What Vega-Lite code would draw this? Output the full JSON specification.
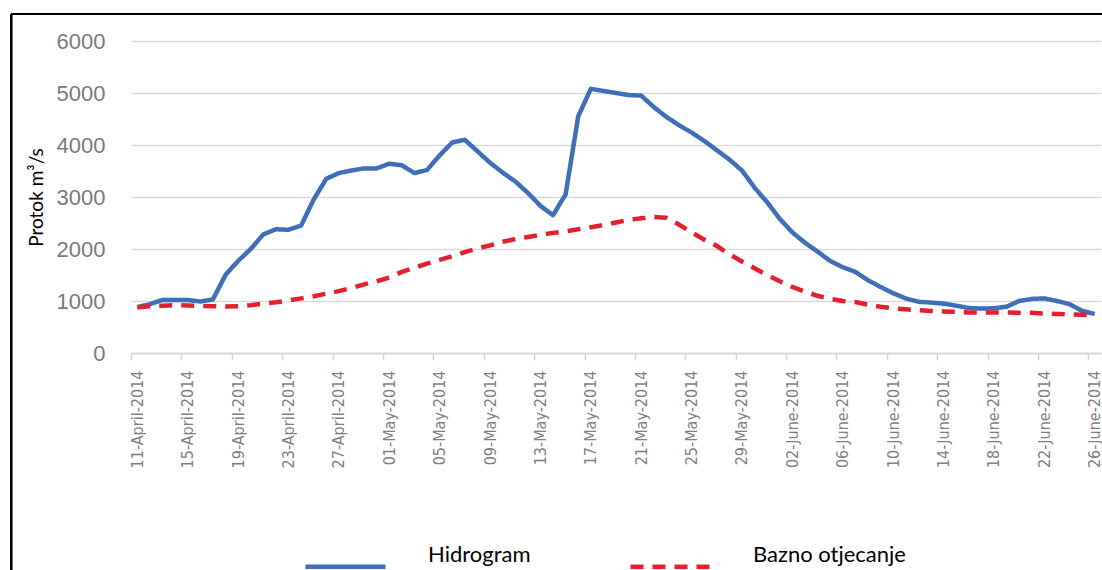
{
  "$schema": "https://vega.github.io/schema/vega-lite/v6.json",
  "width": 970,
  "height": 312,
  "autosize": {"type": "none"},
  "padding": {"left": 131, "top": 41, "right": 1, "bottom": 217},
  "background": "white",
  "config": {
    "view": {"stroke": null},
    "font": "Lato",
    "legend": {
      "orient": "none",
      "legendX": 172,
      "legendY": 483,
      "direction": "horizontal",
      "symbolType": "stroke",
      "symbolSize": 6400,
      "symbolStrokeWidth": 4.5,
      "labelFont": "Lato",
      "labelFontSize": 22,
      "labelColor": "black",
      "labelOffset": 40,
      "columnPadding": 90,
      "labelBaseline": "bottom",
      "labelLimit": 400,
      "padding": 0
    }
  },
  "data": {
    "values": [
      {"date": "2014-04-11", "Hidrogram": 880, "Bazno otjecanje": 880},
      {"date": "2014-04-12", "Hidrogram": 940, "Bazno otjecanje": 900},
      {"date": "2014-04-13", "Hidrogram": 1020, "Bazno otjecanje": 910},
      {"date": "2014-04-14", "Hidrogram": 1020, "Bazno otjecanje": 920},
      {"date": "2014-04-15", "Hidrogram": 1020, "Bazno otjecanje": 915},
      {"date": "2014-04-16", "Hidrogram": 990, "Bazno otjecanje": 905},
      {"date": "2014-04-17", "Hidrogram": 1030, "Bazno otjecanje": 900},
      {"date": "2014-04-18", "Hidrogram": 1500, "Bazno otjecanje": 895},
      {"date": "2014-04-19", "Hidrogram": 1770, "Bazno otjecanje": 900},
      {"date": "2014-04-20", "Hidrogram": 2000, "Bazno otjecanje": 920},
      {"date": "2014-04-21", "Hidrogram": 2280, "Bazno otjecanje": 950},
      {"date": "2014-04-22", "Hidrogram": 2380, "Bazno otjecanje": 975},
      {"date": "2014-04-23", "Hidrogram": 2370, "Bazno otjecanje": 1010},
      {"date": "2014-04-24", "Hidrogram": 2450, "Bazno otjecanje": 1050},
      {"date": "2014-04-25", "Hidrogram": 2950, "Bazno otjecanje": 1090},
      {"date": "2014-04-26", "Hidrogram": 3350, "Bazno otjecanje": 1140},
      {"date": "2014-04-27", "Hidrogram": 3460, "Bazno otjecanje": 1190},
      {"date": "2014-04-28", "Hidrogram": 3510, "Bazno otjecanje": 1250},
      {"date": "2014-04-29", "Hidrogram": 3550, "Bazno otjecanje": 1320},
      {"date": "2014-04-30", "Hidrogram": 3550, "Bazno otjecanje": 1380},
      {"date": "2014-05-01", "Hidrogram": 3640, "Bazno otjecanje": 1450},
      {"date": "2014-05-02", "Hidrogram": 3610, "Bazno otjecanje": 1560},
      {"date": "2014-05-03", "Hidrogram": 3460, "Bazno otjecanje": 1640},
      {"date": "2014-05-04", "Hidrogram": 3520, "Bazno otjecanje": 1720},
      {"date": "2014-05-05", "Hidrogram": 3800, "Bazno otjecanje": 1790},
      {"date": "2014-05-06", "Hidrogram": 4050, "Bazno otjecanje": 1860},
      {"date": "2014-05-07", "Hidrogram": 4100, "Bazno otjecanje": 1940},
      {"date": "2014-05-08", "Hidrogram": 3880, "Bazno otjecanje": 2010},
      {"date": "2014-05-09", "Hidrogram": 3660, "Bazno otjecanje": 2070},
      {"date": "2014-05-10", "Hidrogram": 3470, "Bazno otjecanje": 2140},
      {"date": "2014-05-11", "Hidrogram": 3300, "Bazno otjecanje": 2190},
      {"date": "2014-05-12", "Hidrogram": 3080, "Bazno otjecanje": 2230},
      {"date": "2014-05-13", "Hidrogram": 2830, "Bazno otjecanje": 2270},
      {"date": "2014-05-14", "Hidrogram": 2650, "Bazno otjecanje": 2310},
      {"date": "2014-05-15", "Hidrogram": 3050, "Bazno otjecanje": 2340},
      {"date": "2014-05-16", "Hidrogram": 4550, "Bazno otjecanje": 2380},
      {"date": "2014-05-17", "Hidrogram": 5080, "Bazno otjecanje": 2420},
      {"date": "2014-05-18", "Hidrogram": 5040, "Bazno otjecanje": 2460},
      {"date": "2014-05-19", "Hidrogram": 5000, "Bazno otjecanje": 2510},
      {"date": "2014-05-20", "Hidrogram": 4960, "Bazno otjecanje": 2560},
      {"date": "2014-05-21", "Hidrogram": 4950, "Bazno otjecanje": 2590},
      {"date": "2014-05-22", "Hidrogram": 4730, "Bazno otjecanje": 2615},
      {"date": "2014-05-23", "Hidrogram": 4540, "Bazno otjecanje": 2600},
      {"date": "2014-05-24", "Hidrogram": 4380, "Bazno otjecanje": 2470},
      {"date": "2014-05-25", "Hidrogram": 4240, "Bazno otjecanje": 2320},
      {"date": "2014-05-26", "Hidrogram": 4080, "Bazno otjecanje": 2180},
      {"date": "2014-05-27", "Hidrogram": 3900, "Bazno otjecanje": 2060},
      {"date": "2014-05-28", "Hidrogram": 3720, "Bazno otjecanje": 1900},
      {"date": "2014-05-29", "Hidrogram": 3510, "Bazno otjecanje": 1760},
      {"date": "2014-05-30", "Hidrogram": 3180, "Bazno otjecanje": 1630},
      {"date": "2014-05-31", "Hidrogram": 2900, "Bazno otjecanje": 1500},
      {"date": "2014-06-01", "Hidrogram": 2580, "Bazno otjecanje": 1380},
      {"date": "2014-06-02", "Hidrogram": 2320, "Bazno otjecanje": 1270},
      {"date": "2014-06-03", "Hidrogram": 2120, "Bazno otjecanje": 1180},
      {"date": "2014-06-04", "Hidrogram": 1950, "Bazno otjecanje": 1100},
      {"date": "2014-06-05", "Hidrogram": 1770, "Bazno otjecanje": 1040},
      {"date": "2014-06-06", "Hidrogram": 1650, "Bazno otjecanje": 1000},
      {"date": "2014-06-07", "Hidrogram": 1560, "Bazno otjecanje": 980},
      {"date": "2014-06-08", "Hidrogram": 1400, "Bazno otjecanje": 930},
      {"date": "2014-06-09", "Hidrogram": 1270, "Bazno otjecanje": 890},
      {"date": "2014-06-10", "Hidrogram": 1150, "Bazno otjecanje": 860},
      {"date": "2014-06-11", "Hidrogram": 1050, "Bazno otjecanje": 840},
      {"date": "2014-06-12", "Hidrogram": 985, "Bazno otjecanje": 825},
      {"date": "2014-06-13", "Hidrogram": 970, "Bazno otjecanje": 810},
      {"date": "2014-06-14", "Hidrogram": 950, "Bazno otjecanje": 800},
      {"date": "2014-06-15", "Hidrogram": 910, "Bazno otjecanje": 790},
      {"date": "2014-06-16", "Hidrogram": 865, "Bazno otjecanje": 780},
      {"date": "2014-06-17", "Hidrogram": 855, "Bazno otjecanje": 780},
      {"date": "2014-06-18", "Hidrogram": 860, "Bazno otjecanje": 780},
      {"date": "2014-06-19", "Hidrogram": 890, "Bazno otjecanje": 780},
      {"date": "2014-06-20", "Hidrogram": 1000, "Bazno otjecanje": 775},
      {"date": "2014-06-21", "Hidrogram": 1040, "Bazno otjecanje": 775},
      {"date": "2014-06-22", "Hidrogram": 1050, "Bazno otjecanje": 760},
      {"date": "2014-06-23", "Hidrogram": 1000, "Bazno otjecanje": 750},
      {"date": "2014-06-24", "Hidrogram": 940, "Bazno otjecanje": 740},
      {"date": "2014-06-25", "Hidrogram": 810, "Bazno otjecanje": 735},
      {"date": "2014-06-26", "Hidrogram": 750, "Bazno otjecanje": 735}
    ]
  },
  "layer": [
    {
      "transform": [{"fold": ["Hidrogram", "Bazno otjecanje"], "as": ["serija", "protok"]}],
      "mark": {"type": "line", "strokeWidth": 4.5, "strokeJoin": "round", "strokeCap": "butt"},
      "encoding": {
        "x": {
          "field": "date",
          "type": "temporal",
          "scale": {
            "type": "utc",
            "domain": [
              {"year": 2014, "month": 4, "date": 10, "hours": 12, "utc": true},
              {"year": 2014, "month": 6, "date": 26, "hours": 12, "utc": true}
            ]
          },
          "axis": {
            "title": null,
            "values": [
              {"year": 2014, "month": 4, "date": 11, "utc": true},
              {"year": 2014, "month": 4, "date": 15, "utc": true},
              {"year": 2014, "month": 4, "date": 19, "utc": true},
              {"year": 2014, "month": 4, "date": 23, "utc": true},
              {"year": 2014, "month": 4, "date": 27, "utc": true},
              {"year": 2014, "month": 5, "date": 1, "utc": true},
              {"year": 2014, "month": 5, "date": 5, "utc": true},
              {"year": 2014, "month": 5, "date": 9, "utc": true},
              {"year": 2014, "month": 5, "date": 13, "utc": true},
              {"year": 2014, "month": 5, "date": 17, "utc": true},
              {"year": 2014, "month": 5, "date": 21, "utc": true},
              {"year": 2014, "month": 5, "date": 25, "utc": true},
              {"year": 2014, "month": 5, "date": 29, "utc": true},
              {"year": 2014, "month": 6, "date": 2, "utc": true},
              {"year": 2014, "month": 6, "date": 6, "utc": true},
              {"year": 2014, "month": 6, "date": 10, "utc": true},
              {"year": 2014, "month": 6, "date": 14, "utc": true},
              {"year": 2014, "month": 6, "date": 18, "utc": true},
              {"year": 2014, "month": 6, "date": 22, "utc": true},
              {"year": 2014, "month": 6, "date": 26, "utc": true}
            ],
            "labelExpr": "utcFormat(datum.value, '%d-%B-%Y')",
            "labelAngle": -90,
            "labelFont": "'DejaVu Sans Condensed', 'Liberation Sans Narrow', 'DejaVu Sans Mono'",
            "labelFontSize": 16,
            "labelColor": "#7f7f7f",
            "labelPadding": 10,
            "labelOverlap": false,
            "labelBound": false,
            "labelFlush": false,
            "tickSize": 7,
            "tickColor": "#d4d4d4",
            "tickWidth": 1.5,
            "tickOffset": -6.3,
            "labelOffset": 6.3,
            "domainColor": "#d4d4d4",
            "domainWidth": 1.5,
            "grid": false
          }
        },
        "y": {
          "field": "protok",
          "type": "quantitative",
          "scale": {"domain": [0, 6000], "nice": false},
          "axis": {
            "title": "Protok m³/s",
            "titleFont": "Lato",
            "titleFontSize": 19,
            "titleFontWeight": "normal",
            "titleColor": "black",
            "titlePadding": 10,
            "values": [0, 1000, 2000, 3000, 4000, 5000, 6000],
            "format": "d",
            "labelFont": "Liberation Sans",
            "labelFontSize": 22,
            "labelColor": "#7a7a7a",
            "labelPadding": 26,
            "ticks": false,
            "domain": false,
            "grid": true,
            "gridColor": "#d9d9d9",
            "gridWidth": 1.5
          }
        },
        "color": {
          "field": "serija",
          "type": "nominal",
          "scale": {"domain": ["Hidrogram", "Bazno otjecanje"], "range": ["#3f6fb6", "#e5202e"]},
          "legend": {"title": null}
        },
        "strokeDash": {
          "field": "serija",
          "type": "nominal",
          "scale": {"domain": ["Hidrogram", "Bazno otjecanje"], "range": [[1, 0], [13, 9]]},
          "legend": {"title": null}
        }
      }
    },
    {
      "mark": {"type": "rule", "color": "black", "strokeWidth": 2},
      "encoding": {
        "y": {"datum": 6520},
        "x": {"datum": {"year": 2014, "month": 3, "date": 31, "hours": 23, "minutes": 24, "utc": true}},
        "x2": {"datum": {"year": 2014, "month": 7, "date": 2, "utc": true}}
      }
    },
    {
      "mark": {"type": "rule", "color": "black", "strokeWidth": 2},
      "encoding": {
        "x": {"datum": {"year": 2014, "month": 3, "date": 31, "hours": 23, "minutes": 24, "utc": true}},
        "y": {"datum": 6520},
        "y2": {"datum": -5000}
      }
    }
  ]
}
